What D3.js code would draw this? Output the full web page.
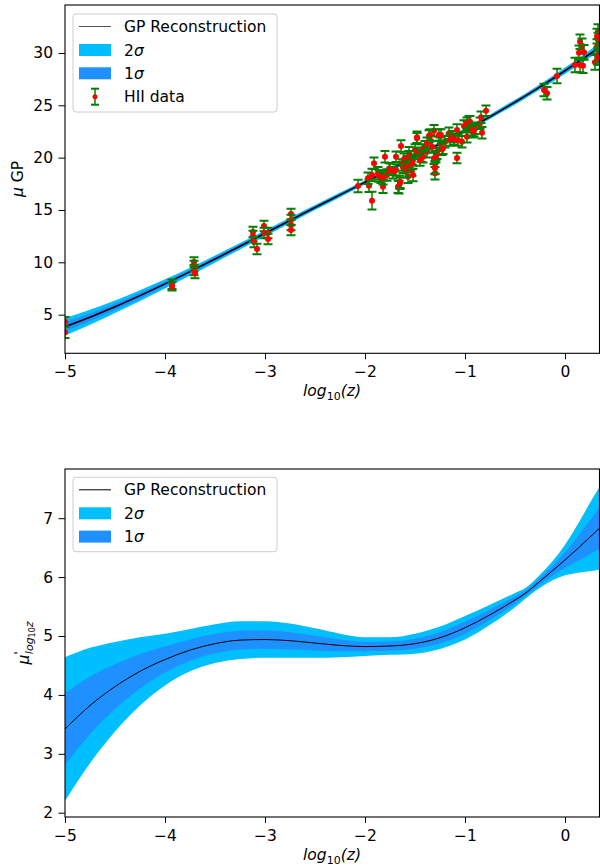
<!DOCTYPE html>
<html>
<head>
<meta charset="utf-8">
<script src="https://cdn.jsdelivr.net/npm/d3@7"></script>
<style>
  body { margin: 0; background: #fff; }
  svg text { font-family: "DejaVu Sans", sans-serif; }
</style>
</head>
<body>
<div id="chart"></div>
<script>
// GP reconstruction grid (log10 z)
const gridLogZ = [-5, -4.75, -4.5, -4.25, -4, -3.75, -3.5, -3.25, -3, -2.75, -2.5, -2.25, -2,
                  -1.75, -1.5, -1.25, -1, -0.75, -0.5, -0.4, -0.25, 0, 0.15, 0.25, 0.345];
// distance modulus reconstruction
const muMean  = [3.85, 4.76, 5.75, 6.82, 7.94, 9.11, 10.31, 11.54, 12.77, 14.0, 15.23, 16.44, 17.65,
                 18.86, 20.08, 21.32, 22.59, 23.91, 25.30, 25.87, 26.76, 28.30, 29.26, 29.92, 30.56];
const muSigma = [0.42, 0.36, 0.3, 0.26, 0.22, 0.19, 0.17, 0.155, 0.14, 0.13, 0.12, 0.11, 0.1,
                 0.1, 0.1, 0.1, 0.1, 0.11, 0.12, 0.12, 0.13, 0.15, 0.17, 0.18, 0.2];
// derivative reconstruction
const dmuMean  = [3.42, 3.82, 4.14, 4.40, 4.60, 4.76, 4.87, 4.93, 4.94, 4.92, 4.88, 4.84, 4.82,
                  4.83, 4.87, 4.97, 5.14, 5.36, 5.61, 5.72, 5.93, 6.29, 6.52, 6.68, 6.83];
const dmuSigma = [0.61, 0.49, 0.38, 0.29, 0.22, 0.18, 0.165, 0.16, 0.155, 0.145, 0.125, 0.1, 0.08,
                  0.075, 0.085, 0.095, 0.1, 0.085, 0.06, 0.045, 0.055, 0.13, 0.22, 0.29, 0.35];

// HII data: [log10 z, mu, error]
const hiiData = [
  [-5.0, 4.33, 0.45], [-5.0, 3.32, 0.55],
  [-3.93, 7.90, 0.45], [-3.93, 7.70, 0.4],
  [-3.71, 10.03, 0.45], [-3.71, 9.65, 0.5], [-3.71, 9.27, 0.5], [-3.70, 8.98, 0.5],
  [-3.12, 12.90, 0.5], [-3.12, 12.52, 0.5], [-3.11, 11.94, 0.5], [-3.08, 11.28, 0.5],
  [-3.01, 13.47, 0.5], [-3.01, 12.80, 0.5], [-2.97, 12.80, 0.5], [-2.97, 12.23, 0.5],
  [-2.74, 14.62, 0.5], [-2.74, 14.04, 0.5], [-2.74, 13.57, 0.5], [-2.74, 13.09, 0.5],
  [-2.07, 17.29, 0.6], [-1.96, 17.32, 0.6], [-1.93, 15.89, 0.85], [-1.91, 19.46, 0.55],
  [-1.97, 18.03, 0.55], [-1.86, 18.25, 0.55], [-1.82, 17.22, 0.6], [-1.80, 20.09, 0.55],
  [-1.76, 18.94, 0.55], [-1.72, 18.56, 0.55], [-1.69, 20.09, 0.5], [-1.64, 21.11, 0.55],
  [-1.66, 17.17, 0.6], [-1.65, 17.55, 0.55], [-1.62, 19.08, 0.55], [-1.58, 19.61, 0.55],
  [-1.56, 20.47, 0.55], [-1.57, 18.18, 0.6], [-1.53, 18.82, 0.55], [-1.52, 19.78, 0.55],
  [-1.50, 20.73, 0.55], [-1.48, 21.85, 0.5], [-1.44, 20.16, 0.55], [-1.40, 21.05, 0.55],
  [-1.38, 20.57, 0.55], [-1.34, 21.59, 0.55], [-1.31, 22.57, 0.55], [-1.30, 19.01, 0.6],
  [-1.30, 18.50, 0.6], [-1.29, 20.09, 0.55], [-1.28, 20.41, 0.55], [-1.25, 21.37, 0.55],
  [-1.26, 22.16, 0.55], [-1.23, 20.80, 0.55], [-1.20, 21.52, 0.55], [-1.16, 22.33, 0.55],
  [-1.15, 21.69, 0.55], [-1.12, 22.00, 0.55], [-1.08, 19.97, 0.5], [-1.08, 22.64, 0.55],
  [-1.03, 21.52, 0.55], [-1.01, 23.02, 0.55], [-0.98, 22.96, 0.55], [-0.98, 22.00, 0.55],
  [-0.95, 23.43, 0.55], [-0.92, 22.48, 0.55], [-0.90, 22.80, 0.55], [-0.85, 23.28, 0.55],
  [-0.83, 22.38, 0.55], [-0.84, 23.85, 0.55], [-0.79, 24.48, 0.5],
  [-0.18, 26.15, 0.6], [-0.21, 26.46, 0.6],
  [-1.93, 18.34, 0.6], [-1.87, 18.50, 0.6], [-1.84, 18.18, 0.6], [-1.82, 18.03, 0.6],
  [-1.78, 18.34, 0.55], [-1.75, 18.89, 0.55], [-1.69, 18.82, 0.55], [-1.67, 17.22, 0.6],
  [-1.65, 17.70, 0.6], [-1.63, 19.30, 0.55], [-1.61, 19.84, 0.55], [-1.59, 18.66, 0.55],
  [-1.58, 19.14, 0.55], [-1.56, 20.09, 0.55], [-1.53, 19.46, 0.55], [-1.52, 18.34, 0.6],
  [-1.48, 21.94, 0.55], [-1.47, 20.41, 0.55], [-1.43, 20.73, 0.55], [-1.36, 22.07, 0.55],
  [-1.35, 22.16, 0.55], [-1.38, 21.37, 0.55], [-1.24, 22.16, 0.55], [-1.22, 20.89, 0.55],
  [-1.11, 21.75, 0.55], [-0.98, 23.28, 0.55], [-0.96, 23.43, 0.55], [-0.93, 22.64, 0.55],
  [-0.91, 22.57, 0.55], [-1.29, 20.35, 0.55], [-1.31, 19.94, 0.55], [-1.30, 19.08, 0.6],
  [-1.42, 20.09, 0.55], [-1.45, 19.78, 0.55], [-1.33, 21.05, 0.55], [-1.07, 21.69, 0.55],
  [-0.08, 27.80, 0.7], [0.10, 28.85, 0.7], [0.15, 31.07, 0.7], [0.17, 30.69, 0.7],
  [0.14, 30.02, 0.7], [0.19, 30.06, 0.7], [0.15, 28.85, 0.7], [0.18, 28.78, 0.7],
  [0.30, 29.10, 0.7], [0.32, 30.60, 0.7], [0.33, 32.03, 0.7], [0.33, 31.24, 0.7],
  [0.33, 29.80, 0.7], [0.33, 29.55, 0.7], [0.32, 31.60, 0.7]
];

const xTicks = [-5, -4, -3, -2, -1, 0];
const muTicks = [5, 10, 15, 20, 25, 30];
const dmuTicks = [2, 3, 4, 5, 6, 7];

const fontSize = 15.5;
const c2sig = "#00BFFF", c1sig = "#1E90FF";

const svg = d3.select("#chart").append("svg")
  .attr("width", 600).attr("height", 867);

const x = d3.scaleLinear().domain([-5, 0.345]).range([65, 599.5]);
const yTop = d3.scaleLinear().domain([1.31, 34.58]).range([353.3, 5]);
const yBot = d3.scaleLinear().domain([1.927, 7.835]).range([817, 469]);

const grid = gridLogZ.map((z, i) => ({z: z, mu: muMean[i], ms: muSigma[i], d: dmuMean[i], ds: dmuSigma[i]}));

function drawPanel(y, ticks, id, meanKey, sigKey, lineWidth) {
  const g = svg.append("g");
  const y0 = y.range()[0], y1 = y.range()[1];

  g.append("clipPath").attr("id", id)
    .append("rect").attr("x", 65).attr("y", y1).attr("width", 534.5).attr("height", y0 - y1);

  const plot = g.append("g").attr("clip-path", "url(#" + id + ")");

  const band = k => d3.area()
    .x(d => x(d.z))
    .y0(d => y(d[meanKey] - k * d[sigKey]))
    .y1(d => y(d[meanKey] + k * d[sigKey]))
    .curve(d3.curveMonotoneX);

  plot.append("path").datum(grid).attr("d", band(2)).attr("fill", c2sig);
  plot.append("path").datum(grid).attr("d", band(1)).attr("fill", c1sig);
  plot.append("path").datum(grid)
    .attr("d", d3.line().x(d => x(d.z)).y(d => y(d[meanKey])).curve(d3.curveMonotoneX))
    .attr("fill", "none").attr("stroke", "#000").attr("stroke-width", lineWidth);

  // axes
  const ax = g.append("g").attr("transform", "translate(0," + y0 + ")")
    .call(d3.axisBottom(x).tickValues(xTicks).tickSize(6).tickPadding(7).tickFormat(d3.format("d")));
  const ay = g.append("g").attr("transform", "translate(65,0)")
    .call(d3.axisLeft(y).tickValues(ticks).tickSize(6.5).tickPadding(5.5).tickFormat(d3.format("d")));
  [ax, ay].forEach(a => {
    a.select(".domain").remove();
    a.selectAll("text").attr("font-size", fontSize).attr("fill", "#000")
      .attr("font-family", "DejaVu Sans");
    a.selectAll("line").attr("stroke", "#000").attr("stroke-width", 1);
  });

  g.append("rect").attr("x", 65).attr("y", y1).attr("width", 534.5).attr("height", y0 - y1)
    .attr("fill", "none").attr("stroke", "#000").attr("stroke-width", 1.1);

  // x label
  const xl = g.append("text").attr("x", 332).attr("y", y0 + 43)
    .attr("text-anchor", "middle").attr("font-size", fontSize);
  xl.append("tspan").attr("font-style", "italic").text("log");
  xl.append("tspan").attr("font-size", 11).attr("dy", 4).text("10");
  xl.append("tspan").attr("font-style", "italic").attr("dy", -4).text("(z)");

  return {g: g, plot: plot};
}

const topPanel = drawPanel(yTop, muTicks, "clipTop", "mu", "ms", 1.6);
const botPanel = drawPanel(yBot, dmuTicks, "clipBot", "d", "ds", 1);

// HII data with error bars
const pts = topPanel.plot.append("g").selectAll("g").data(hiiData).enter().append("g");
pts.append("line")
  .attr("x1", d => x(d[0])).attr("x2", d => x(d[0]))
  .attr("y1", d => yTop(d[1] - d[2])).attr("y2", d => yTop(d[1] + d[2]))
  .attr("stroke", "#008000").attr("stroke-width", 1.5);
[-1, 1].forEach(s => {
  pts.append("line")
    .attr("x1", d => x(d[0]) - 4.5).attr("x2", d => x(d[0]) + 4.5)
    .attr("y1", d => yTop(d[1] + s * d[2])).attr("y2", d => yTop(d[1] + s * d[2]))
    .attr("stroke", "#008000").attr("stroke-width", 2);
});
pts.append("circle")
  .attr("cx", d => x(d[0])).attr("cy", d => yTop(d[1])).attr("r", 3)
  .attr("fill", "#ff0000");

// y labels
const ylt = svg.append("text").attr("transform", "translate(23,179) rotate(-90)")
  .attr("text-anchor", "middle").attr("font-size", fontSize);
ylt.append("tspan").attr("font-style", "italic").text("μ");
ylt.append("tspan").text(" GP");

const ylb = svg.append("text").attr("transform", "translate(29,643) rotate(-90)")
  .attr("text-anchor", "middle").attr("font-size", fontSize);
ylb.append("tspan").attr("font-style", "italic").text("μ");
ylb.append("tspan").attr("font-size", 13).attr("dy", -6).text("'");
ylb.append("tspan").attr("font-style", "italic").attr("font-size", 11).attr("dy", 10).attr("dx", -3).text("log");
ylb.append("tspan").attr("font-size", 8).attr("dy", 2).text("10");
ylb.append("tspan").attr("font-style", "italic").attr("font-size", 11).attr("dy", -2).text("z");

// legends
function legend(y0, h, withData) {
  const lg = svg.append("g");
  lg.append("rect").attr("x", 73).attr("y", y0).attr("width", 204).attr("height", h)
    .attr("rx", 3).attr("fill", "#fff").attr("fill-opacity", 0.8)
    .attr("stroke", "#cccccc").attr("stroke-width", 1);
  const rows = [y0 + 12.5, y0 + 36, y0 + 59.3, y0 + 82.7];
  lg.append("line").attr("x1", 79).attr("x2", 111).attr("y1", rows[0]).attr("y2", rows[0])
    .attr("stroke", withData ? "#555" : "#000").attr("stroke-width", 1);
  lg.append("rect").attr("x", 79).attr("y", rows[1] - 6).attr("width", 32).attr("height", 12).attr("fill", c2sig);
  lg.append("rect").attr("x", 79).attr("y", rows[2] - 6).attr("width", 32).attr("height", 12).attr("fill", c1sig);
  const labels = [["GP Reconstruction"], ["2", "σ"], ["1", "σ"]];
  if (withData) labels.push(["HII data"]);
  labels.forEach((l, i) => {
    const t = lg.append("text").attr("x", 124).attr("y", rows[i] + 5.5).attr("font-size", fontSize);
    t.append("tspan").text(l[0]);
    if (l[1]) t.append("tspan").attr("font-style", "italic").text(l[1]);
  });
  if (withData) {
    const cy = rows[3];
    lg.append("line").attr("x1", 95).attr("x2", 95).attr("y1", cy - 8).attr("y2", cy + 8)
      .attr("stroke", "#008000").attr("stroke-width", 1.5);
    [-8, 8].forEach(o => lg.append("line").attr("x1", 91).attr("x2", 99)
      .attr("y1", cy + o).attr("y2", cy + o).attr("stroke", "#008000").attr("stroke-width", 2));
    lg.append("circle").attr("cx", 95).attr("cy", cy).attr("r", 2.5).attr("fill", "#ff0000");
  }
}
legend(14, 98, true);
legend(477.3, 74.4, false);
</script>
</body>
</html>
